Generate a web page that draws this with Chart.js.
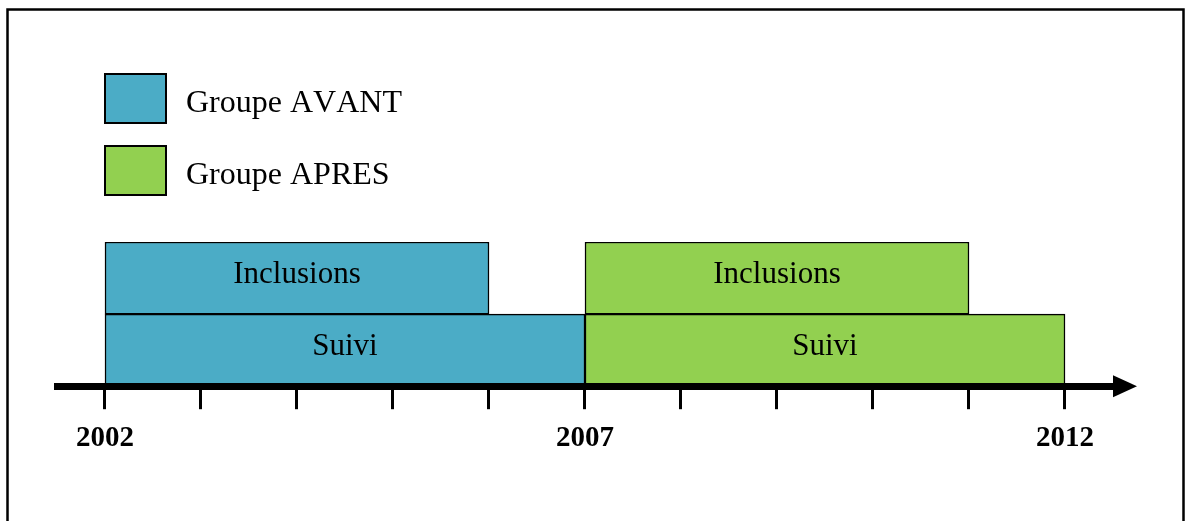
<!DOCTYPE html>
<html>
<head>
<meta charset="utf-8">
<script src="https://cdn.jsdelivr.net/npm/chart.js@4/dist/chart.umd.min.js"></script>
<style>
  html, body { margin: 0; padding: 0; background: #fff; }
  #wrap { position: relative; width: 1186px; height: 521px; }
  canvas { display: block; }
</style>
</head>
<body>
<div id="wrap"><canvas id="c" width="1186" height="521"></canvas></div>
<script>
// ---- data ----
const phases = ['Inclusions', 'Suivi'];
const groupNames = ['Groupe AVANT', 'Groupe APRES'];
const avantPeriods = [[2002, 2006], [2002, 2007]];
const apresPeriods = [[2007, 2011], [2007, 2012]];
const tickYears = [2002, 2003, 2004, 2005, 2006, 2007, 2008, 2009, 2010, 2011, 2012];
const labeledYears = [2002, 2007, 2012];

// ---- styles ----
const BLUE = '#4BACC6';
const GREEN = '#92D050';
const SERIF = "'Liberation Serif', 'Times New Roman', serif";

const framePlugin = {
  id: 'frame',
  beforeDraw(chart) {
    const ctx = chart.ctx;
    ctx.save();
    ctx.fillStyle = '#fff';
    ctx.fillRect(0, 0, chart.width, chart.height);
    ctx.strokeStyle = '#000';
    ctx.lineWidth = 2.5;
    ctx.beginPath();
    ctx.moveTo(7.5, chart.height + 5);
    ctx.lineTo(7.5, 9.5);
    ctx.lineTo(1183.5, 9.5);
    ctx.lineTo(1183.5, chart.height + 5);
    ctx.stroke();
    ctx.restore();
  }
};

const legendPlugin = {
  id: 'customLegend',
  afterDraw(chart) {
    const ctx = chart.ctx;
    const x0 = chart.scales.x.getPixelForValue(tickYears[0]);
    ctx.save();
    chart.data.datasets.forEach((ds, i) => {
      const top = 74 + i * 72;
      ctx.fillStyle = ds.backgroundColor;
      ctx.fillRect(x0, top, 61, 49);
      ctx.strokeStyle = '#000';
      ctx.lineWidth = 2;
      ctx.strokeRect(x0, top, 61, 49);
      ctx.fillStyle = '#000';
      ctx.font = '32px ' + SERIF;
      ctx.fontKerning = 'none';
      ctx.textAlign = 'left';
      ctx.textBaseline = 'alphabetic';
      ctx.fillText(ds.label, x0 + 81, top + 38);
    });
    ctx.restore();
  }
};

const barLabelPlugin = {
  id: 'barLabels',
  afterDatasetsDraw(chart) {
    const ctx = chart.ctx;
    ctx.save();
    ctx.fillStyle = '#000';
    ctx.font = '31px ' + SERIF;
    ctx.textAlign = 'center';
    ctx.textBaseline = 'alphabetic';
    chart.data.datasets.forEach((ds, di) => {
      const meta = chart.getDatasetMeta(di);
      meta.data.forEach((el, j) => {
        const cx = (el.x + el.base) / 2;
        ctx.fillText(chart.data.labels[j], cx, el.y + 5);
      });
    });
    ctx.restore();
  }
};

const arrowPlugin = {
  id: 'arrow',
  afterDraw(chart) {
    const ctx = chart.ctx;
    const xs = chart.scales.x;
    const y = xs.top;
    const tip = xs.right + 17;
    ctx.save();
    ctx.fillStyle = '#000';
    ctx.beginPath();
    ctx.moveTo(tip - 24, y - 11);
    ctx.lineTo(tip, y);
    ctx.lineTo(tip - 24, y + 11);
    ctx.closePath();
    ctx.fill();
    ctx.restore();
  }
};

new Chart(document.getElementById('c'), {
  type: 'bar',
  data: {
    labels: phases,
    datasets: [
      { label: groupNames[0], data: avantPeriods, backgroundColor: BLUE },
      { label: groupNames[1], data: apresPeriods, backgroundColor: GREEN }
    ]
  },
  options: {
    indexAxis: 'y',
    responsive: false,
    animation: false,
    devicePixelRatio: 1,
    layout: { padding: { left: 57, right: 66, top: 242, bottom: 53 } },
    datasets: {
      bar: {
        grouped: false,
        categoryPercentage: 1,
        barPercentage: 1,
        borderColor: '#000',
        borderWidth: 1.5,
        borderSkipped: false
      }
    },
    plugins: {
      legend: { display: false },
      tooltip: { enabled: false },
      title: { display: false }
    },
    scales: {
      y: { type: 'category', display: false },
      x: {
        type: 'linear',
        min: 2001.5,
        max: 2012 + 55 / 96,
        afterBuildTicks(scale) {
          scale.ticks = tickYears.map(v => ({ value: v }));
        },
        grid: {
          drawOnChartArea: false,
          drawTicks: true,
          tickLength: 23,
          tickWidth: 3,
          tickColor: '#000'
        },
        border: { display: true, color: '#000', width: 7, z: 1 },
        ticks: {
          autoSkip: false,
          maxRotation: 0,
          padding: 12,
          color: '#000',
          font: { family: SERIF, size: 29, weight: 'bold' },
          callback: v => labeledYears.includes(v) ? String(v) : ''
        }
      }
    }
  },
  plugins: [framePlugin, legendPlugin, barLabelPlugin, arrowPlugin]
});
</script>
</body>
</html>
